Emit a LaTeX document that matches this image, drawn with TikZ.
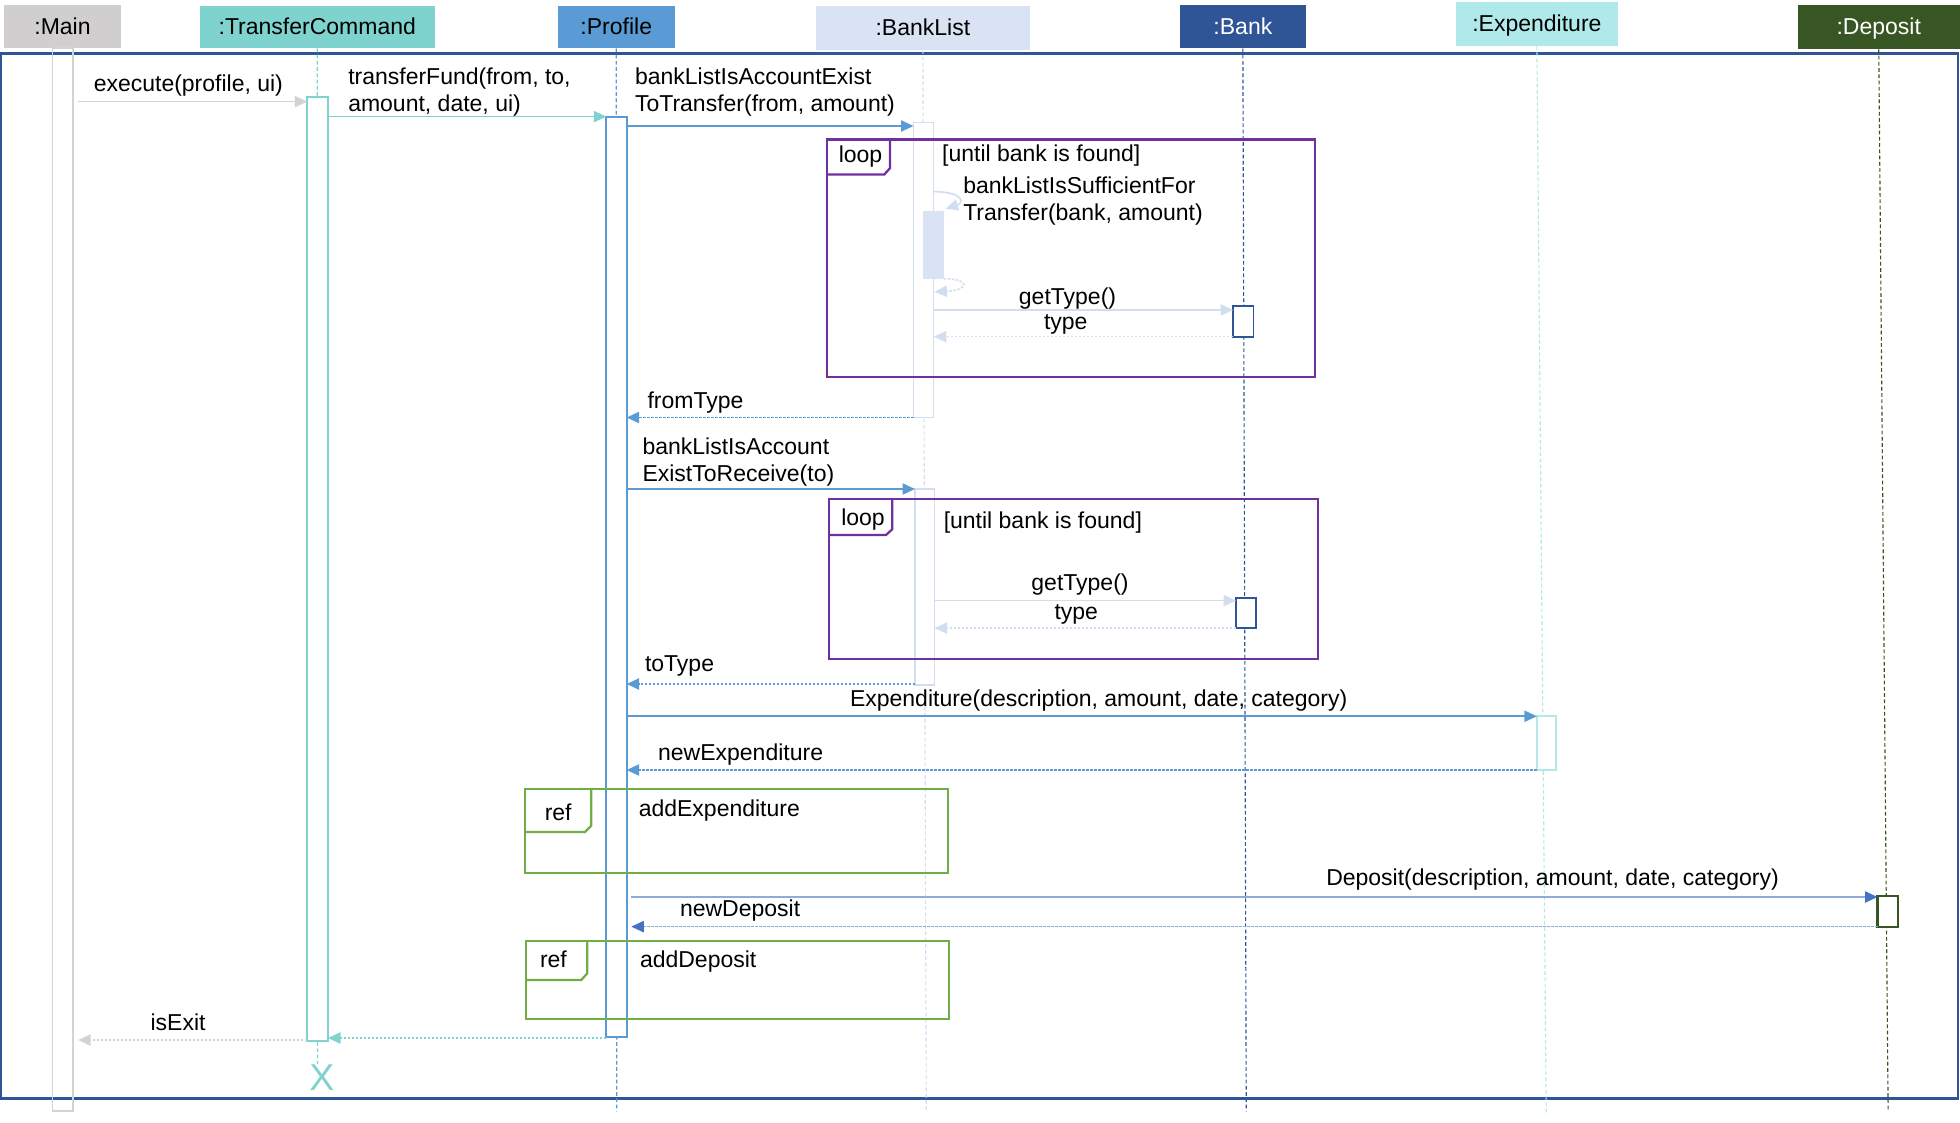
\documentclass[tikz,border=0pt]{standalone}
\usepackage{fontspec}
\setmainfont{Liberation Sans}
\usetikzlibrary{arrows.meta}
\definecolor{mgray}{HTML}{D0CECE}
\definecolor{mline}{HTML}{D3D3D3}
\definecolor{tccol}{HTML}{7FD3CF}
\definecolor{pblue}{HTML}{5B9BD5}
\definecolor{blfill}{HTML}{DAE3F3}
\definecolor{blline}{HTML}{D3DDF0}
\definecolor{bankcol}{HTML}{2F5597}
\definecolor{expcol}{HTML}{AFE9E9}
\definecolor{deplight}{HTML}{8FAADC}
\definecolor{dephead}{HTML}{4472C4}
\definecolor{depcol}{HTML}{375623}
\definecolor{loopcol}{HTML}{7030A0}
\definecolor{refcol}{HTML}{70AD47}
\definecolor{framecol}{HTML}{2F5597}
\newcommand\dfont{\fontsize{18.4}{22}\selectfont}
\begin{document}
\begin{tikzpicture}[x=1pt,y=-1pt,
  every node/.style={inner sep=0pt, outer sep=0pt, font=\dfont},
  hdr/.style={minimum width=#1, text height=12.4pt, text depth=0pt},
  act/.style={draw, fill=white, line width=1.5pt},
  life/.style={line width=0.9pt, dash pattern=on 3pt off 2pt},
  msg/.style={line width=1.3pt, -{Triangle[length=10pt,width=9pt]}},
  ret/.style={msg, dash pattern=on 2pt off 1.2pt},
  fr/.style={line width=1.8pt},
  lbl/.style={anchor=base west},
  clbl/.style={anchor=base}]
\useasboundingbox (0,0) rectangle (1568,897.6);
% outer frame
\draw[framecol, line width=1.8pt] (1,42.7) rectangle (1566.5,878.7);
% headers
\node[hdr=94pt, minimum height=34pt, fill=mgray] (main) at (50,21.3) {:Main};
\node[hdr=188pt, minimum height=34pt, fill=tccol] (tc) at (253.8,21.6) {:TransferCommand};
\node[hdr=94pt, minimum height=34pt, fill=pblue] (prof) at (493,21.6) {:Profile};
\node[hdr=171pt, minimum height=35.5pt, fill=blfill] (bl) at (738.3,22.3) {:BankList};
\node[hdr=101pt, minimum height=35pt, fill=bankcol, text=white] (bank) at (994.3,21.2) {:Bank};
\node[hdr=129pt, minimum height=35.5pt, fill=expcol] (exp) at (1229.5,19.1) {:Expenditure};
\node[hdr=130pt, minimum height=35.5pt, fill=depcol, text=white] (dep) at (1503,21.7) {:Deposit};
% lifeline ends
\coordinate (tcEnd) at (254,851);
\coordinate (profEnd) at (493.4,889);
\coordinate (blEnd) at (741,889);
\coordinate (bankEnd) at (997,889);
\coordinate (expEnd) at (1237,892);
\coordinate (depEnd) at (1510.5,889);
\draw[life, tccol] (tc.south) -- (tcEnd);
\draw[life, pblue] (prof.south) -- (profEnd);
\draw[life, blline] (bl.south) -- (blEnd);
\draw[life, bankcol] (bank.south) -- (bankEnd);
\draw[life, expcol] (exp.south) -- (expEnd);
\draw[life, depcol] (dep.south) -- (depEnd);
% activations
\node[draw=mline, line width=1.5pt, minimum width=16.5pt, minimum height=850.3pt] (mainA) at (50.2,463.85) {};
\node[act, draw=tccol, minimum width=16.6pt, minimum height=755.7pt] (tcA) at (254.1,455.15) {};
\node[act, draw=pblue, minimum width=16.3pt, minimum height=736.5pt] (profA) at (493.15,461.55) {};
\node[act, draw=blline, line width=1.2pt, minimum width=16pt, minimum height=236pt] (blA) at (738.8,216) {};
\node[act, draw=blline, line width=1.2pt, minimum width=15.6pt, minimum height=156.8pt] (blB) at (739.8,469.6) {};
\node[fill=blfill, minimum width=17pt, minimum height=55pt] (blS) at (746.5,196) {};
\node[act, draw=bankcol, minimum width=16.3pt, minimum height=24.5pt] (bankA) at (994.65,257.05) {};
\node[act, draw=bankcol, minimum width=16.1pt, minimum height=24pt] (bankB) at (996.85,490.5) {};
\node[act, draw=expcol, minimum width=15.5pt, minimum height=43.5pt] (expA) at (1237.25,594.25) {};
\node[act, draw=depcol, line width=1.8pt, minimum width=16.5pt, minimum height=24.3pt] (depA) at (1510.25,729.15) {};
% X
\node[font=\fontsize{30}{30}\selectfont, text=tccol] (xmark) at (257.5,862) {X};
% frames
\draw[loopcol, fr] (661.4,111.5) rectangle (1052,301.3);
\draw[loopcol, fr] (712,111.5) -- (712,134.5) -- (707.5,139.5) -- (661.4,139.5);
\draw[loopcol, fr] (663,399.2) rectangle (1054.5,527.4);
\draw[loopcol, fr] (713.8,399.2) -- (713.8,423.4) -- (708.8,428) -- (663,428);
\draw[refcol, fr] (420,631) rectangle (758.5,698.5);
\draw[refcol, fr] (473,631) -- (473,660.5) -- (468,665.6) -- (420,665.6);
\draw[refcol, fr] (421,752.5) rectangle (759,815);
\draw[refcol, fr] (469.8,752.5) -- (469.8,778.7) -- (465,784) -- (421,784);
% message end points
\coordinate (m1s) at (62.5,81.3);   \coordinate (m1e) at (245.8,81.3);
\coordinate (m2s) at (262.4,93.3);  \coordinate (m2e) at (485,93.3);
\coordinate (m3s) at (501.3,100.8); \coordinate (m3e) at (730.8,100.8);
\coordinate (m4s) at (746.8,153.3); \coordinate (m4e) at (756.5,167);
\coordinate (m5s) at (755,223);     \coordinate (m5e) at (747.5,233.5);
\coordinate (m6s) at (746.8,248);   \coordinate (m6e) at (986.5,248);
\coordinate (m7s) at (986.5,269.3); \coordinate (m7e) at (747,269.3);
\coordinate (m8s) at (730.8,334);   \coordinate (m8e) at (501.3,334);
\coordinate (m9s) at (501.3,391.2); \coordinate (m9e) at (732,391.2);
\coordinate (m10s) at (747.6,480.5); \coordinate (m10e) at (988.8,480.5);
\coordinate (m11s) at (988.8,502.5); \coordinate (m11e) at (747.6,502.5);
\coordinate (m12s) at (732,547.2);   \coordinate (m12e) at (501.3,547.2);
\coordinate (m13s) at (501.3,573);   \coordinate (m13e) at (1229.5,573);
\coordinate (m14s) at (1229.5,616);  \coordinate (m14e) at (501.3,616);
\coordinate (m15s) at (505,717.6);   \coordinate (m15e) at (1502,717.6);
\coordinate (m16s) at (1502,741.3);  \coordinate (m16e) at (505,741.3);
\coordinate (m17s) at (485,830.4);   \coordinate (m17e) at (262.4,830.4);
\coordinate (m18s) at (245.8,832);   \coordinate (m18e) at (62.5,832);
% messages
\draw[msg, mline] (m1s) -- (m1e);
\draw[msg, tccol] (m2s) -- (m2e);
\draw[msg, pblue] (m3s) -- (m3e);
\draw[msg, blline] (m4s) .. controls (770,153.3) and (772,162) .. (m4e);
\draw[ret, blline] (m5s) .. controls (776,223) and (776,232) .. (m5e);
\draw[msg, blline] (m6s) -- (m6e);
\draw[ret, blline] (m7s) -- (m7e);
\draw[ret, pblue] (m8s) -- (m8e);
\draw[msg, pblue] (m9s) -- (m9e);
\draw[msg, blline] (m10s) -- (m10e);
\draw[ret, blline] (m11s) -- (m11e);
\draw[ret, pblue] (m12s) -- (m12e);
\draw[msg, pblue] (m13s) -- (m13e);
\draw[ret, pblue] (m14s) -- (m14e);
\draw[msg, deplight, -{Triangle[length=10pt,width=9pt,fill=dephead,color=dephead]}] (m15s) -- (m15e);
\draw[ret, deplight, -{Triangle[length=10pt,width=9pt,fill=dephead,color=dephead]}] (m16s) -- (m16e);
\draw[ret, tccol] (m17s) -- (m17e);
\draw[ret, mline] (m18s) -- (m18e);
% labels
\node[lbl] (t1) at (75,72.8) {execute(profile, ui)};
\node[lbl] (t2a) at (278.6,67.3) {transferFund(from, to,};
\node[lbl] (t2b) at (278.6,89) {amount, date, ui)};
\node[lbl] (t3a) at (508,67.5) {bankListIsAccountExist};
\node[lbl] (t3b) at (508,89.5) {ToTransfer(from, amount)};
\node[lbl] (lp1) at (671,130) {loop};
\node[lbl] (g1) at (753.7,129.3) {[until bank is found]};
\node[lbl] (t4a) at (770.6,154.7) {bankListIsSufficientFor};
\node[lbl] (t4b) at (770.6,176.6) {Transfer(bank, amount)};
\node[clbl] (t6) at (854,243.2) {getType()};
\node[clbl] (t7) at (852.6,263.2) {type};
\node[lbl] (t8) at (518,326.7) {fromType};
\node[lbl] (t9a) at (514,363.2) {bankListIsAccount};
\node[lbl] (t9b) at (514,385.3) {ExistToReceive(to)};
\node[lbl] (lp2) at (673,420) {loop};
\node[lbl] (g2) at (755,422.7) {[until bank is found]};
\node[clbl] (t10) at (864,472.5) {getType()};
\node[clbl] (t11) at (861,495.5) {type};
\node[lbl] (t12) at (516,537.3) {toType};
\node[lbl] (t13) at (680,565) {Expenditure(description, amount, date, category)};
\node[lbl] (t14) at (526.5,608) {newExpenditure};
\node[lbl] (r1) at (435.8,656) {ref};
\node[lbl] (r1t) at (511,653.3) {addExpenditure};
\node[lbl] (t15) at (1061,708) {Deposit(description, amount, date, category)};
\node[lbl] (t16) at (544,732.8) {newDeposit};
\node[lbl] (r2) at (432,773.6) {ref};
\node[lbl] (r2t) at (512,773.6) {addDeposit};
\node[lbl] (t18) at (120.5,824) {isExit};
\end{tikzpicture}
\end{document}
